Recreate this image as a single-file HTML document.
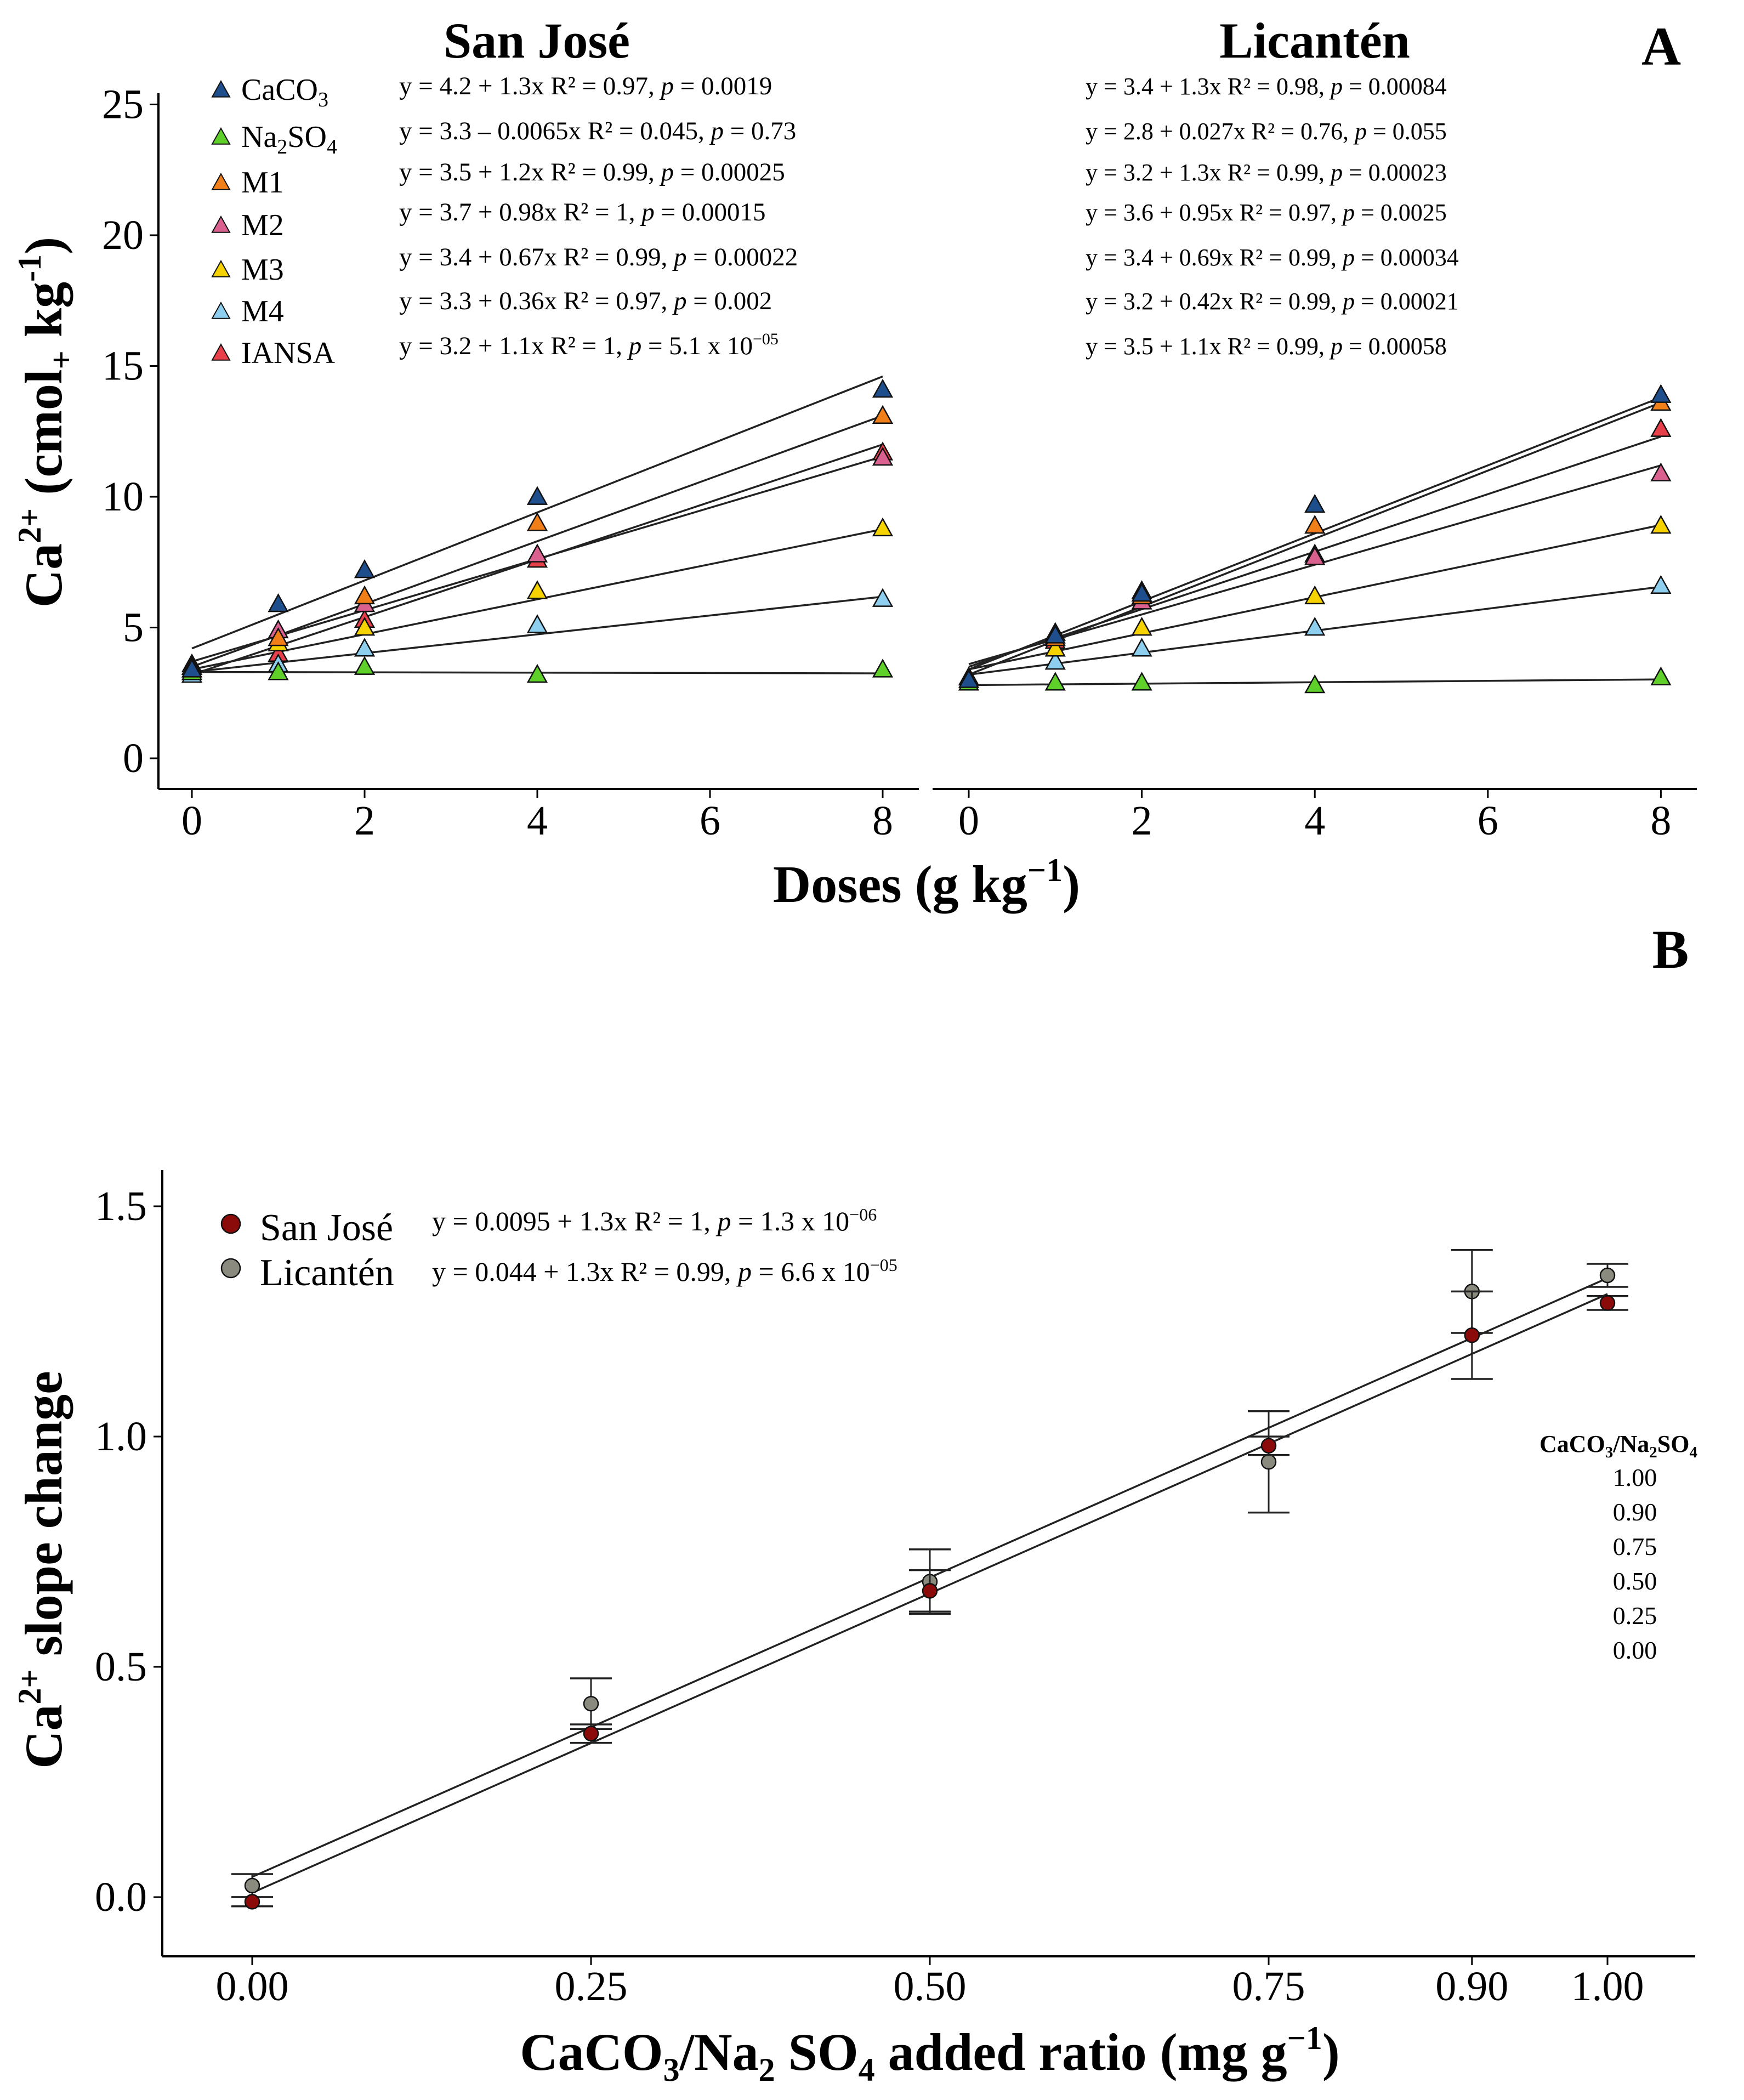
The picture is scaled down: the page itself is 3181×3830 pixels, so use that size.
<!DOCTYPE html>
<html><head><meta charset="utf-8"><style>
html,body{margin:0;padding:0;background:#fff}
svg{display:block;font-family:"Liberation Serif","DejaVu Serif",serif}
</style></head><body>
<svg id="fig" width="3181" height="3830" viewBox="0 0 3181 3830" xmlns="http://www.w3.org/2000/svg">
<g id="A"></g>
<g id="B"></g>
</svg>
<script>
// ---- Panel A data ----
const doses = [0, 1, 2, 4, 8];
const seriesNames = ["CaCO3", "Na2SO4", "M1", "M2", "M3", "M4", "IANSA"];
const seriesColors = ["#1f4e8c", "#5fcf2a", "#f07f1a", "#d9608f", "#f5d200", "#8ecff0", "#e8404a"];
const sjCaCO3 = [3.4, 5.9, 7.2, 10.0, 14.1];
const sjNa2SO4 = [3.3, 3.3, 3.5, 3.2, 3.4];
const sjM1 = [3.5, 4.6, 6.2, 9.0, 13.1];
const sjM2 = [3.6, 4.9, 5.9, 7.8, 11.5];
const sjM3 = [3.4, 4.4, 5.0, 6.4, 8.8];
const sjM4 = [3.2, 3.6, 4.2, 5.1, 6.1];
const sjIANSA = [3.5, 4.0, 5.3, 7.6, 11.7];
const lcCaCO3 = [3.0, 4.7, 6.3, 9.7, 13.9];
const lcNa2SO4 = [2.9, 2.9, 2.9, 2.8, 3.1];
const lcM1 = [3.1, 4.6, 6.2, 8.9, 13.6];
const lcM2 = [2.9, 4.8, 6.0, 7.7, 10.9];
const lcM3 = [3.1, 4.2, 5.0, 6.2, 8.9];
const lcM4 = [3.1, 3.7, 4.2, 5.0, 6.6];
const lcIANSA = [3.1, 4.5, 6.4, 7.8, 12.6];
const sjIntercepts = [4.2, 3.3, 3.5, 3.7, 3.4, 3.3, 3.2];
const sjSlopes = [1.3, -0.0065, 1.2, 0.98, 0.67, 0.36, 1.1];
const lcIntercepts = [3.4, 2.8, 3.2, 3.6, 3.4, 3.2, 3.5];
const lcSlopes = [1.3, 0.027, 1.3, 0.95, 0.69, 0.42, 1.1];
const yTicksA = [0, 5, 10, 15, 20, 25];
const xTicksA = [0, 2, 4, 6, 8];
const sjEq = ["y = 4.2 + 1.3x  R² = 0.97, <i>p</i> = 0.0019","y = 3.3 – 0.0065x  R² = 0.045, <i>p</i> = 0.73","y = 3.5 + 1.2x  R² = 0.99, <i>p</i> = 0.00025","y = 3.7 + 0.98x  R² = 1, <i>p</i> = 0.00015","y = 3.4 + 0.67x  R² = 0.99, <i>p</i> = 0.00022","y = 3.3 + 0.36x  R² = 0.97, <i>p</i> = 0.002","y = 3.2 + 1.1x  R² = 1, <i>p</i> = 5.1 x 10<sup>−05</sup>"];
const lcEq = ["y = 3.4 + 1.3x  R² = 0.98, <i>p</i> = 0.00084","y = 2.8 + 0.027x  R² = 0.76, <i>p</i> = 0.055","y = 3.2 + 1.3x  R² = 0.99, <i>p</i> = 0.00023","y = 3.6 + 0.95x  R² = 0.97, <i>p</i> = 0.0025","y = 3.4 + 0.69x  R² = 0.99, <i>p</i> = 0.00034","y = 3.2 + 0.42x  R² = 0.99, <i>p</i> = 0.00021","y = 3.5 + 1.1x  R² = 0.99, <i>p</i> = 0.00058"];
// ---- Panel B data ----
const ratios = [0, 0.25, 0.5, 0.75, 0.9, 1.0];
const ratioLabels = ["0.00", "0.25", "0.50", "0.75", "0.90", "1.00"];
const sjSlopeChange = [-0.01, 0.355, 0.665, 0.98, 1.22, 1.29];
const sjErr = [0.01, 0.02, 0.045, 0.02, 0.095, 0.015];
const lcSlopeChange = [0.025, 0.42, 0.685, 0.945, 1.315, 1.35];
const lcErr = [0.025, 0.055, 0.07, 0.11, 0.09, 0.025];
const sjFit = [0.0095, 1.3];
const lcFit = [0.044, 1.3];
const yTicksB = [0, 0.5, 1.0, 1.5];
const yTickLabelsB = ["0.0", "0.5", "1.0", "1.5"];

const NS = "http://www.w3.org/2000/svg";
function mk(parent, tag, attrs, text) {
  const e = document.createElementNS(NS, tag);
  for (const k in attrs) e.setAttribute(k, attrs[k]);
  if (text !== undefined) e.textContent = text;
  parent.appendChild(e);
  return e;
}
const A = document.getElementById("A");
const B = document.getElementById("B");

// ---------- Panel A ----------
const yA = v => 1383 - v * 47.7;
const panels = [
  {x0: 350, k: 157.5, left: 289, right: 1676, name: "san-jose", data: [sjCaCO3, sjNa2SO4, sjM1, sjM2, sjM3, sjM4, sjIANSA], ic: sjIntercepts, sl: sjSlopes},
  {x0: 1767, k: 157.8, left: 1701, right: 3095, name: "licanten", data: [lcCaCO3, lcNa2SO4, lcM1, lcM2, lcM3, lcM4, lcIANSA], ic: lcIntercepts, sl: lcSlopes}
];
panels.forEach((p, pi) => {
  const xA = v => p.x0 + v * p.k;
  const axis = mk(A, "line", {x1: p.left, x2: p.right, y1: 1439, y2: 1439, stroke: "#000", "stroke-width": 4});
  
  
  xTicksA.forEach(t => {
    mk(A, "line", {x1: xA(t), x2: xA(t), y1: 1439, y2: 1455, stroke: "#000", "stroke-width": 3});
    const tl = mk(A, "text", {x: xA(t), y: 1522, "font-size": 76, "text-anchor": "middle"}, String(t));
    
    
  });
  p.ic.forEach((b, i) => {
    const ln = mk(A, "line", {x1: xA(0), y1: yA(b), x2: xA(8), y2: yA(b + p.sl[i] * 8), stroke: "#222", "stroke-width": 3.5});
    
    
  });
  for (let i = p.data.length - 1; i >= 0; i--) {
    p.data[i].forEach((v, j) => {
      const cx = xA(doses[j]), cy = yA(v), s = 17;
      const tri = mk(A, "polygon", {points: `${cx},${cy - s} ${cx - s},${cy + s * 0.8} ${cx + s},${cy + s * 0.8}`, fill: seriesColors[i], stroke: "#111", "stroke-width": 2.5});
      
      
    });
  }
});
const yAxA = mk(A, "line", {x1: 289, x2: 289, y1: 170, y2: 1439, stroke: "#000", "stroke-width": 4});


yTicksA.forEach(t => {
  mk(A, "line", {x1: 273, x2: 289, y1: yA(t), y2: yA(t), stroke: "#000", "stroke-width": 3});
  const tl = mk(A, "text", {x: 262, y: yA(t) + 25, "font-size": 76, "text-anchor": "end"}, String(t));
  
  
});
const legY = [164, 250, 333, 411, 492, 568, 644];
const legLabels = ["CaCO<tspan font-size='38' dy='12'>3</tspan>", "Na<tspan font-size='38' dy='12'>2</tspan><tspan dy='-12'>SO</tspan><tspan font-size='38' dy='12'>4</tspan>", "M1", "M2", "M3", "M4", "IANSA"];
legY.forEach((y, i) => {
  const cx = 403, s = 16;
  const tri = mk(A, "polygon", {points: `${cx},${y - s} ${cx - s},${y + s * 0.8} ${cx + s},${y + s * 0.8}`, fill: seriesColors[i], stroke: "#111", "stroke-width": 2});
  
  
  const t = mk(A, "text", {x: 440, y: y + 18, "font-size": 56});
  t.innerHTML = legLabels[i];
  
  
});
const eqY = [172, 254, 329, 402, 484, 564, 646];
eqY.forEach((y, i) => {
  [[728, sjEq, 47], [1980, lcEq, 44]].forEach(([x, arr, fs], k) => {
    const t = mk(A, "text", {x: x, y: y, "font-size": fs});
    t.innerHTML = arr[i].replace(/<i>/g, "<tspan font-style='italic'>").replace(/<\/i>/g, "</tspan>").replace(/<sup>/g, "<tspan font-size='30' dy='-18'>").replace(/<\/sup>/g, "</tspan>");
    
    
  });
});
</script>
<script>
(function(){
const A = document.getElementById("A");
A.insertAdjacentHTML("beforeend", `
<text x="979" y="105" font-size="92" font-weight="bold" text-anchor="middle">San José</text>
<text x="2398" y="105" font-size="92" font-weight="bold" text-anchor="middle">Licantén</text>
<text x="3030" y="118" font-size="100" font-weight="bold" text-anchor="middle">A</text>
<text transform="translate(112,770) rotate(-90)" font-size="96" font-weight="bold" text-anchor="middle">Ca<tspan font-size="60" dy="-38">2+</tspan><tspan dy="38"> (cmol</tspan><tspan font-size="60" dy="20">+</tspan><tspan dy="-20"> kg</tspan><tspan font-size="60" dy="-38">-1</tspan><tspan dy="38">)</tspan></text>
<text x="1690" y="1645" font-size="96" font-weight="bold" text-anchor="middle">Doses (g kg<tspan font-size="60" dy="-38">−1</tspan><tspan dy="38">)</tspan></text>
<text x="3047" y="1765" font-size="100" font-weight="bold" text-anchor="middle">B</text>
`);
})();
</script>
<script>
const xB = v => 460 + v * 2472;
const yB = v => 3460 - v * 840;
const BB = document.getElementById("B");
function mkB(tag, attrs, text){ return mk(BB, tag, attrs, text); }
const xAxB = mkB("line", {x1: 296, x2: 3092, y1: 3568, y2: 3568, stroke: "#000", "stroke-width": 4});


const yAxB = mkB("line", {x1: 296, x2: 296, y1: 2134, y2: 3568, stroke: "#000", "stroke-width": 4});


ratios.forEach((r, i) => {
  mkB("line", {x1: xB(r), x2: xB(r), y1: 3568, y2: 3584, stroke: "#000", "stroke-width": 3});
  const tl = mkB("text", {x: xB(r), y: 3648, "font-size": 76, "text-anchor": "middle"}, ratioLabels[i]);
  
  
});
yTicksB.forEach((t, i) => {
  mkB("line", {x1: 280, x2: 296, y1: yB(t), y2: yB(t), stroke: "#000", "stroke-width": 3});
  const tl = mkB("text", {x: 268, y: yB(t) + 25, "font-size": 76, "text-anchor": "end"}, yTickLabelsB[i]);
  
  
});
[[sjFit, "san-jose"], [lcFit, "licanten"]].forEach(([f, n]) => {
  const ln = mkB("line", {x1: xB(0), y1: yB(f[0]), x2: xB(1), y2: yB(f[0] + f[1]), stroke: "#222", "stroke-width": 3.5});
  
  
});
[[lcSlopeChange, lcErr, "#8a8a7e", "licanten"], [sjSlopeChange, sjErr, "#8b0a0a", "san-jose"]].forEach(([vals, errs, col, n]) => {
  vals.forEach((v, i) => {
    const x = xB(ratios[i]), lo = yB(v - errs[i]), hi = yB(v + errs[i]);
    const g = mkB("g", {});
    
    
    mk(g, "line", {x1: x, x2: x, y1: lo, y2: hi, stroke: "#222", "stroke-width": 3});
    mk(g, "line", {x1: x - 38, x2: x + 38, y1: lo, y2: lo, stroke: "#222", "stroke-width": 3.5});
    mk(g, "line", {x1: x - 38, x2: x + 38, y1: hi, y2: hi, stroke: "#222", "stroke-width": 3.5});
    const c = mkB("circle", {cx: x, cy: yB(v), r: 13, fill: col, stroke: "#111", "stroke-width": 2.5});
    
    
  });
});
BB.insertAdjacentHTML("beforeend", `
<circle cx="421" cy="2232" r="17" fill="#8b0a0a" stroke="#111" stroke-width="2.5"/>
<circle cx="421" cy="2313" r="17" fill="#8a8a7e" stroke="#111" stroke-width="2.5"/>
<text x="474" y="2262" font-size="70">San José</text>
<text x="474" y="2344" font-size="70">Licantén</text>
<text x="788" y="2244" font-size="50">y = 0.0095 + 1.3x  R² = 1, <tspan font-style="italic">p</tspan> = 1.3 x 10<tspan font-size="32" dy="-18">−06</tspan></text>
<text x="788" y="2336" font-size="50">y = 0.044 + 1.3x  R² = 0.99, <tspan font-style="italic">p</tspan> = 6.6 x 10<tspan font-size="32" dy="-18">−05</tspan></text>
<text x="2808" y="2648" font-size="44" font-weight="bold">CaCO<tspan font-size="29" dy="10">3</tspan><tspan dy="-10">/Na</tspan><tspan font-size="29" dy="10">2</tspan><tspan dy="-10">SO</tspan><tspan font-size="29" dy="10">4</tspan></text>
<g font-size="46" text-anchor="middle">
<text x="2982" y="2710">1.00</text><text x="2982" y="2773">0.90</text><text x="2982" y="2836">0.75</text><text x="2982" y="2899">0.50</text><text x="2982" y="2962">0.25</text><text x="2982" y="3025">0.00</text>
</g>
<text transform="translate(112,2863) rotate(-90)" font-size="96" font-weight="bold" text-anchor="middle">Ca<tspan font-size="60" dy="-38">2+</tspan><tspan dy="38"> slope change</tspan></text>
<text x="1696" y="3775" font-size="96" font-weight="bold" text-anchor="middle">CaCO<tspan font-size="60" dy="20">3</tspan><tspan dy="-20">/Na</tspan><tspan font-size="60" dy="20">2</tspan><tspan dy="-20"> SO</tspan><tspan font-size="60" dy="20">4</tspan><tspan dy="-20"> added ratio (mg g</tspan><tspan font-size="60" dy="-38">−1</tspan><tspan dy="38">)</tspan></text>
`);
</script>
</body></html>
